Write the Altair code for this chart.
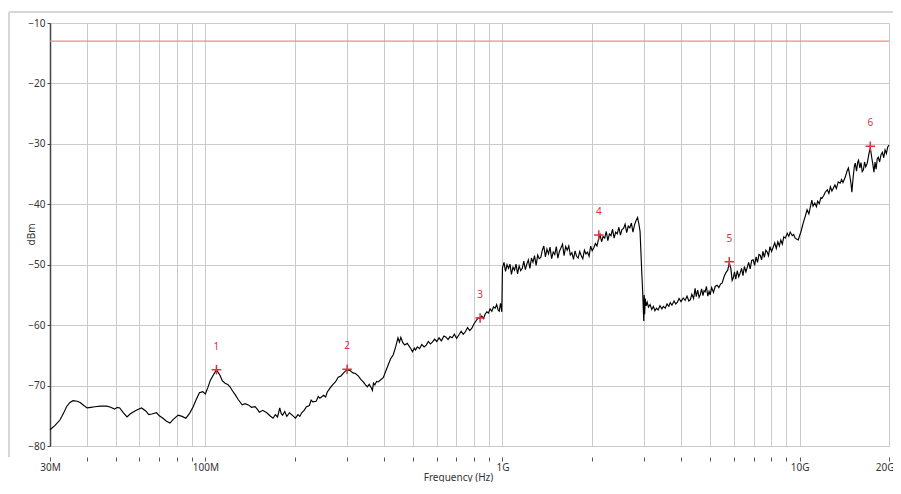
import altair as alt
import pandas as pd

# ---- trace (frequency in MHz, level in dBm) ----
freq_a = [30, 31.2, 32.4, 33.3, 34.1, 35.0, 35.9, 37.0, 37.9, 39.0, 40, 41.2, 42.4, 44.5, 46.6, 48.0, 49.5, 50.5,
          51.5, 53, 54.5, 55.8, 57, 59, 61, 63, 64.5, 66, 68.5, 70, 72, 74, 76, 78, 81, 83.5, 86, 88.5, 91, 93,
          95.5, 98, 100, 102, 104, 106.5, 109]
level_a = [-77.3, -76.6, -75.7, -74.6, -73.5, -72.8, -72.5, -72.6, -72.8, -73.3, -73.7, -73.6, -73.5, -73.4, -73.4,
           -73.6, -73.9, -73.6, -73.7, -74.5, -75.2, -74.7, -74.4, -74.0, -73.7, -74.2, -74.8, -74.7, -74.5, -75.0,
           -75.4, -75.9, -76.2, -75.6, -74.9, -75.1, -75.4, -74.6, -73.5, -72.4, -71.2, -71.0, -71.4, -70.3, -69.1,
           -68.2, -67.4]

freq_b = [112, 114, 116.5, 119, 121, 123.5, 126, 129, 133, 136, 139.5, 143, 147, 149.5, 152, 156, 161, 165, 169,
          172, 175, 178, 180, 182, 185, 188, 192, 196, 201, 205, 208, 211, 215, 219, 224, 227, 230, 236, 240, 243,
          250, 254, 257, 262, 268, 274, 280, 286, 292, 296, 300, 307, 314, 320, 327, 334, 340, 346, 351, 356, 362,
          365, 368, 372, 377, 382, 390, 397, 405, 413]
level_b = [-68.3, -69.2, -69.6, -69.8, -70.2, -70.9, -71.5, -72.3, -73.2, -73.0, -73.2, -73.6, -73.5, -73.9, -74.4,
           -74.1, -74.5, -75.0, -75.4, -74.8, -75.2, -73.7, -74.6, -74.9, -74.3, -75.1, -74.5, -74.9, -75.4, -74.8,
           -75.1, -74.5, -74.1, -73.5, -73.3, -72.4, -72.7, -72.6, -71.8, -72.1, -71.6, -71.9, -71.1, -70.5, -69.9,
           -69.4, -68.6, -68.4, -67.9, -67.6, -67.4, -67.5, -67.9, -68.0, -68.4, -69.0, -69.4, -69.9, -70.2, -69.8,
           -70.4, -70.8, -69.6, -69.9, -69.3, -69.4, -69.0, -68.7, -67.6, -66.5]

freq_c = [420, 429, 437, 445, 450, 455, 462, 469, 478, 487, 492, 498, 505, 510, 517, 526, 535, 545, 554, 563, 572,
          581, 591, 601, 612, 623, 635, 646, 656, 666, 677, 689, 701, 714, 726, 738, 750, 763, 776, 789, 800, 812,
          828, 841, 852, 863, 874, 886, 897, 909, 921, 933, 945, 956, 967, 975, 985, 995]
level_c = [-65.6, -64.9, -63.6, -62.1, -62.8, -62.0, -62.9, -63.3, -63.0, -63.6, -63.9, -64.4, -63.8, -64.1, -63.6,
           -63.9, -63.2, -63.6, -63.3, -62.7, -63.1, -62.8, -62.3, -62.7, -62.1, -62.6, -61.8, -62.0, -62.4, -61.9,
           -62.1, -61.5, -62.2, -61.6, -61.0, -61.5, -61.1, -60.4, -60.9, -60.5, -59.9, -59.4, -58.8, -58.9, -58.5,
           -58.9, -58.2, -57.8, -58.0, -57.3, -57.7, -57.0, -57.2, -56.6, -57.5, -57.7, -56.4, -57.8]

freq_d = [1000, 1012, 1024, 1036, 1048, 1060, 1072, 1085, 1098, 1111, 1124, 1138, 1152, 1166, 1180, 1194, 1208, 1222,
          1237, 1252, 1267, 1282, 1298, 1314, 1330, 1346, 1362, 1378, 1395, 1412, 1429, 1446, 1464, 1482, 1500, 1518,
          1536, 1555, 1574, 1593, 1612, 1632, 1652, 1672, 1692, 1713, 1734, 1755, 1776, 1798, 1820, 1842, 1864, 1887,
          1910, 1933, 1957, 1981, 2005, 2030, 2055, 2080, 2105, 2130, 2156, 2182, 2209, 2236, 2263, 2291, 2319, 2347,
          2376, 2405, 2435, 2465, 2495, 2525, 2556, 2587, 2619, 2651, 2683, 2716, 2749, 2783, 2817, 2850, 2880, 2905,
          2925, 2945, 2965, 2980, 2990, 3000, 3010, 3025, 3045]
level_d = [-50.5, -49.6, -51.1, -50.0, -50.6, -49.9, -51.6, -50.4, -50.9, -49.9, -51.5, -50.2, -51.0, -50.6, -49.4,
           -50.8, -49.9, -49.2, -50.6, -48.9, -49.6, -48.5, -50.1, -48.4, -49.0, -48.8, -47.6, -46.9, -48.7, -47.4,
           -48.2, -47.1, -49.0, -47.9, -48.3, -47.0, -48.9, -47.8, -47.2, -46.6, -48.5, -47.0, -47.6, -46.9, -48.4,
           -48.0, -49.1, -47.7, -48.6, -48.9, -47.8, -48.5, -49.0, -47.6, -48.2, -47.9, -48.6, -46.9, -47.7, -47.2,
           -46.5, -46.9, -45.8, -45.0, -46.2, -45.3, -45.6, -44.5, -46.0, -44.9, -45.2, -44.1, -45.6, -44.6, -44.9,
           -43.8, -45.1, -44.2, -44.0, -43.3, -44.7, -43.6, -43.9, -43.1, -44.6, -43.4, -42.7, -42.2, -43.3, -44.5,
           -48.0, -51.5, -54.5, -57.5, -59.3, -55.0, -58.2, -55.6, -56.8]

freq_e = [3070, 3100, 3140, 3180, 3220, 3260, 3300, 3340, 3390, 3440, 3480, 3530, 3580, 3630, 3670, 3720, 3780, 3830,
          3880, 3930, 3990, 4060, 4120, 4180, 4240, 4290, 4340, 4400, 4450, 4490, 4540, 4590, 4630, 4680, 4730, 4770,
          4810, 4860, 4910, 4960, 5000, 5060, 5130, 5200, 5280, 5350, 5420, 5490, 5570, 5650, 5730, 5800, 5870, 5930,
          5980, 6040, 6100, 6170, 6240, 6310, 6380, 6450, 6520, 6600, 6670, 6740, 6820, 6900, 6980, 7060, 7140, 7220,
          7300, 7370, 7450, 7530, 7610, 7700, 7780, 7860, 7950, 8050, 8150, 8250, 8350, 8450, 8550, 8650, 8750, 8850,
          8950, 9090, 9200, 9300, 9450, 9550, 9670, 9800, 9900, 10000]
level_e = [-56.2, -57.0, -56.6, -57.4, -56.9, -57.6, -57.2, -57.5, -56.8, -57.3, -56.9, -57.2, -56.5, -56.9, -56.3,
           -56.7, -56.0, -56.5, -56.2, -55.6, -56.1, -55.5, -55.9, -55.2, -56.0, -55.8, -54.9, -55.6, -53.9, -55.3,
           -54.2, -55.4, -55.0, -54.0, -55.1, -54.3, -54.5, -53.6, -55.2, -54.4, -55.0, -53.8, -54.6, -53.6, -53.4,
           -53.8, -53.2, -53.0, -52.0, -51.3, -50.9, -49.7, -50.6, -52.6, -52.2, -51.2, -52.4, -51.0, -52.0, -51.4,
           -50.6, -51.8, -50.3, -51.2, -50.4, -49.6, -50.7, -49.3, -49.2, -50.1, -48.7, -49.6, -48.3, -48.4, -49.2,
           -47.8, -48.8, -47.6, -47.9, -48.5, -47.0, -47.8, -47.1, -46.4, -47.3, -46.2, -46.9, -45.9, -46.6, -45.4,
           -45.6, -44.8, -45.3, -44.6, -45.2, -45.0, -45.6, -45.8, -45.9, -45.2]

freq_f = [10100, 10200, 10300, 10450, 10600, 10750, 10900, 11000, 11100, 11250, 11400, 11500, 11650, 11800, 11900,
          12050, 12200, 12400, 12550, 12700, 12850, 13000, 13150, 13300, 13500, 13700, 13850, 14000, 14250, 14450,
          14600, 14750, 14900, 15000, 15150, 15300, 15400, 15550, 15700, 15800, 15950, 16100, 16250, 16400, 16550,
          16700, 16900, 17100, 17300, 17500, 17650, 17800, 17950, 18100, 18250, 18400, 18600, 18800, 19000, 19200,
          19400, 19600, 19800, 20000]
level_f = [-44.6, -43.8, -43.0, -42.0, -40.9, -41.6, -40.2, -39.3, -40.3, -39.8, -40.4, -39.5, -39.9, -38.9, -39.0,
           -38.6, -38.0, -37.6, -38.2, -37.1, -37.8, -37.3, -36.8, -37.4, -36.3, -36.5, -35.9, -36.4, -35.5, -34.5,
           -34.0, -35.2, -36.6, -38.0, -35.5, -33.6, -33.2, -34.5, -33.0, -32.7, -34.0, -33.1, -34.6, -34.3, -33.0,
           -33.8, -33.2, -31.8, -30.6, -32.3, -33.4, -34.7, -33.0, -34.2, -32.5, -32.2, -33.0, -31.8, -31.4, -32.3,
           -31.0, -31.6, -30.5, -30.2]

# ---- markers ----
marker_freq = [109, 300, 841, 2110, 5800, 17300]
marker_level = [-67.4, -67.3, -58.8, -45.1, -49.5, -30.4]
marker_label = ["1", "2", "3", "4", "5", "6"]

limit_dbm = [-13]

x_ticks = [30, 40, 50, 60, 70, 80, 90, 100, 200, 300, 400, 500, 600, 700, 800, 900, 1000,
           2000, 3000, 4000, 5000, 6000, 7000, 8000, 9000, 10000, 20000]
x_tick_text = {30: "30M", 100: "100M", 1000: "1G", 10000: "10G", 20000: "20G"}
y_ticks = [-80, -70, -60, -50, -40, -30, -20, -10]

freq_all = freq_a + freq_b + freq_c + freq_d + freq_e + freq_f
level_all = level_a + level_b + level_c + level_d + level_e + level_f
trace = pd.DataFrame({"f": freq_all, "dbm": level_all})
markers = pd.DataFrame({"f": marker_freq, "dbm": marker_level, "lab": marker_label})
limit = pd.DataFrame({"dbm": limit_dbm})

label_expr = " : ".join(
    [f"datum.value == {k} ? '{v}'" for k, v in x_tick_text.items()]) + " : ''"

FONT = "Noto Sans"
xscale = alt.Scale(type="log", domain=[30, 20000], nice=False)
yscale = alt.Scale(domain=[-80, -10], nice=False, zero=False)

xaxis = alt.Axis(values=x_ticks, labelExpr=label_expr, title="Frequency (Hz)", grid=True,
                 gridColor="#cbcbcb", gridWidth=1, domain=False, offset=11, tickSize=4,
                 tickColor="#555555", labelOverlap=False, labelFlush=False, labelPadding=1,
                 labelAlign={"condition": {"test": "datum.value >= 20000", "value": "right"}, "value": "center"},
                 labelOffset={"condition": {"test": "datum.value >= 20000", "value": 5}, "value": 0},
                 labelFontSize=10, labelColor="#333333", labelFont=FONT,
                 titleFont=FONT, titleFontSize=10, titleFontWeight="normal", titleColor="#333333",
                 titleX=408, titleY=25, titleAlign="center", titleBaseline="bottom")
yaxis = alt.Axis(values=y_ticks, title="dBm", grid=True, gridColor="#cbcbcb", gridWidth=1,
                 domain=True, domainColor="#444444", domainWidth=1.5, tickSize=3, tickColor="#444444",
                 labelFontSize=10, labelColor="#333333", labelFont=FONT, labelPadding=2,
                 titleFont=FONT, titleFontSize=10, titleFontWeight="normal", titleColor="#333333",
                 titleX=-19, titleY=211, titleAngle=270, titleAlign="center", titleBaseline="middle")

base = alt.Chart(trace).mark_line(color="#000000", strokeWidth=1.15, interpolate="linear").encode(
    x=alt.X("f:Q", scale=xscale, axis=xaxis),
    y=alt.Y("dbm:Q", scale=yscale, axis=yaxis),
)

limit_line = alt.Chart(limit).mark_rule(color="#ee8c8c", strokeWidth=1.2).encode(
    y=alt.Y("dbm:Q", scale=yscale)
)

marker_pts = alt.Chart(markers).mark_point(
    shape="M-1,0L1,0M0,-1L0,1", size=90, filled=False, color="#e0303c", strokeWidth=1.5, opacity=1
).encode(x=alt.X("f:Q", scale=xscale), y=alt.Y("dbm:Q", scale=yscale))

marker_txt = alt.Chart(markers).mark_text(
    color="#e0303c", fontSize=10, font=FONT, dy=-23
).encode(x=alt.X("f:Q", scale=xscale), y=alt.Y("dbm:Q", scale=yscale), text="lab:N")

frame_top = alt.Chart(alt.Data(values=[{}])).mark_rule(color="#d6d6d6", strokeWidth=2).encode(
    x=alt.value(-41), x2=alt.value(847), y=alt.value(-11))
frame_left = alt.Chart(alt.Data(values=[{}])).mark_rule(color="#d6d6d6", strokeWidth=2).encode(
    x=alt.value(-41), y=alt.value(-11), y2=alt.value(434))

chart = alt.layer(frame_top, frame_left, limit_line, base, marker_pts, marker_txt).properties(
    width=839, height=423,
    autosize=alt.AutoSizeParams(type="none"),
    padding={"left": 42, "top": 15, "right": 4, "bottom": 36},
).configure_view(stroke=None).configure(background="white")

chart.save("out.html", embed_options={"renderer": "svg", "actions": False})
